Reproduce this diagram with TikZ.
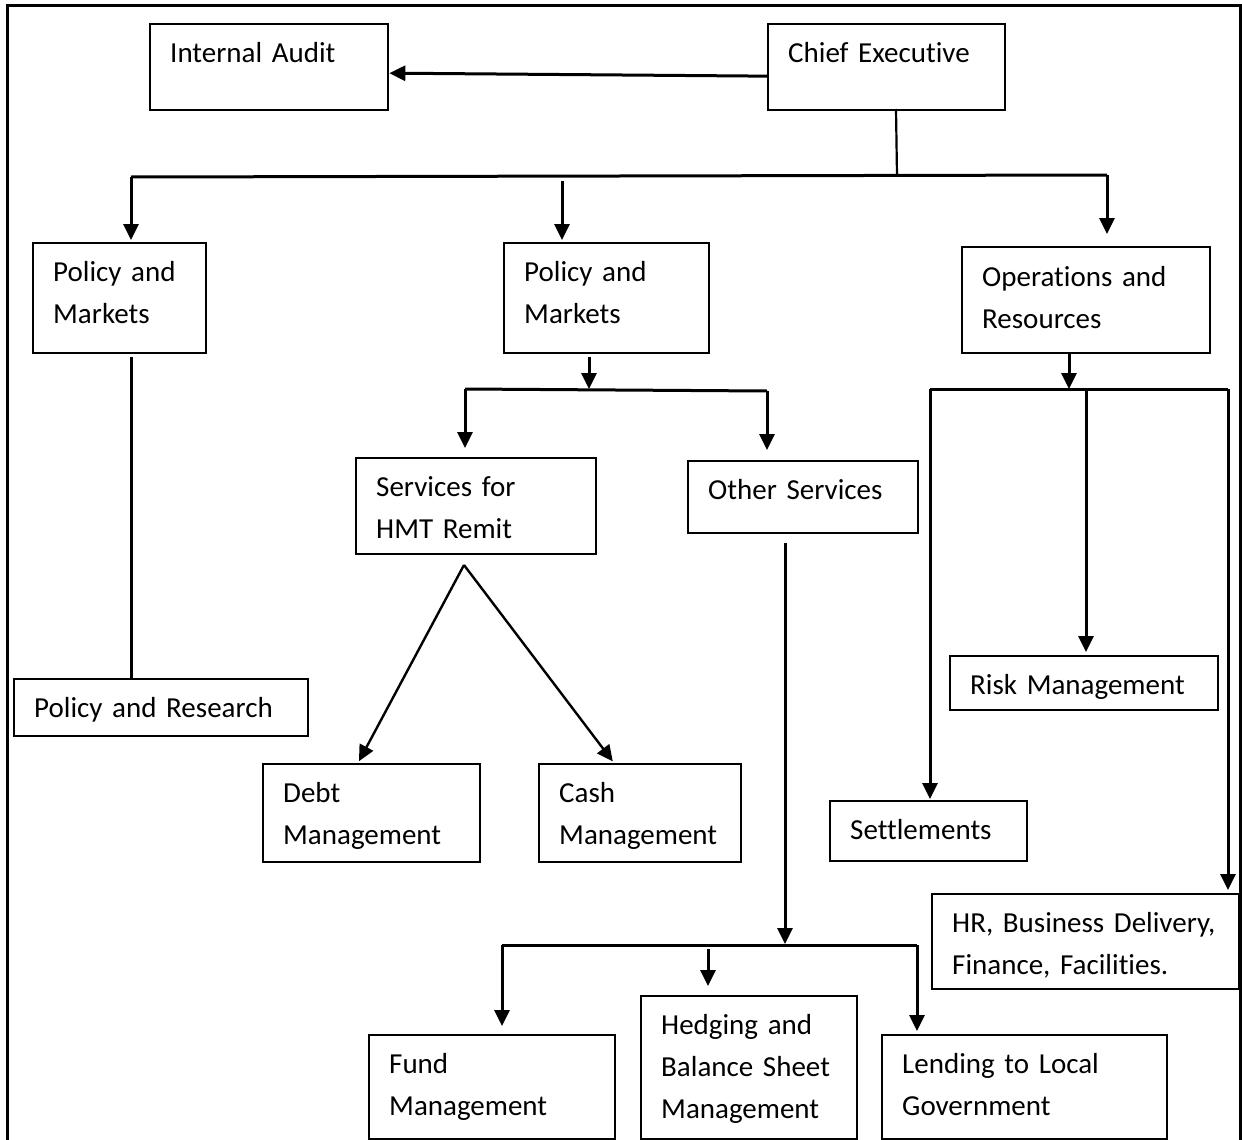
\documentclass[tikz,border=0pt]{standalone}
\usepackage{fontspec}
\setmainfont[Ligatures={NoCommon}]{Carlito}
\usetikzlibrary{arrows.meta}
\tikzset{
  box/.style={draw=black, line width=2.3pt, inner sep=0pt, anchor=north west},
  txt/.style={inner sep=0pt, anchor=north west, text width=400pt, align=left,
    font=\fontsize{29}{42}\selectfont, execute at begin node=\strut},
  conn/.style={line width=3pt, draw=black},
  arr/.style={conn, -{Triangle[width=15pt,length=16pt]}},
}
\newcommand{\orgbox}[7]{%
  \node[box, minimum width=#4pt, minimum height=#5pt] (#1) at (#2,#3) {};
  \node[txt] (#1-t) at ([xshift=21pt,yshift=-#7pt]#1.north west) {#6};
}
\begin{document}
\begin{tikzpicture}[x=1pt,y=-1pt]
\useasboundingbox (0,0) rectangle (1242,1140);
\fill[white] (0,0) rectangle (1242,1140);
\draw[line width=3pt] (7,6) rectangle (1240,1170);

\orgbox{ia}{149}{23}{238}{86}{Internal Audit}{9.6}
\orgbox{ce}{767}{23}{237}{86}{Chief Executive}{9.6}
\orgbox{pm1}{32}{242}{173}{110}{Policy and\\Markets}{9.6}
\orgbox{pm2}{503}{242}{205}{110}{Policy and\\Markets}{9.6}
\orgbox{or}{961}{246}{248}{106}{Operations and\\Resources}{11}
\orgbox{pr}{13}{678}{294}{57}{Policy and Research}{9.6}
\orgbox{hmt}{355}{457}{240}{96}{Services for\\HMT Remit}{9.6}
\orgbox{os}{687}{460}{230}{72}{Other Services}{9.6}
\orgbox{dm}{262}{763}{217}{98}{Debt\\Management}{9.6}
\orgbox{cm}{538}{763}{202}{98}{Cash\\Management}{9.6}
\orgbox{fm}{368}{1034}{246}{104}{Fund\\Management}{9.6}
\orgbox{hb}{640}{995}{216}{143}{Hedging and\\Balance Sheet\\Management}{9.6}
\orgbox{lg}{881}{1034}{285}{104}{Lending to Local\\Government}{9.6}
\orgbox{rm}{949}{655}{268}{54}{Risk Management}{9.6}
\orgbox{st}{829}{800}{197}{60}{Settlements}{9.6}
\orgbox{hr}{931}{893}{307}{95}{HR, Business Delivery,\\Finance, Facilities.}{9.6}

% Chief Executive -> Internal Audit
\draw[arr] ([yshift=-9pt]ce.west) -- ([yshift=-6pt]ia.east);

% Chief Executive down to top bus
\coordinate (ce1) at (896,109);
\coordinate (j0) at (897,176);
\coordinate (b1) at (131,177);
\coordinate (b2) at (1107,175);
\coordinate (m1) at (562,181);
\draw[conn, line width=2.2pt] (ce1) -- (j0);
\draw[conn] (b1) -- (b2);
\draw[arr, shorten >=2pt] (b1) -- (b1 |- pm1.north);
\draw[arr, shorten >=2pt] (m1) -- (m1 |- pm2.north);
\draw[arr, shorten >=12pt] (b2) -- (b2 |- or.north);

% Policy and Markets (left) -> Policy and Research
\coordinate (p1) at (131,357);
\draw[conn] (p1) -- (p1 |- pr.north);

% Policy and Markets (middle) -> services
\coordinate (p2) at (589,357);
\coordinate (b3) at (589,389);
\coordinate (b4) at (465,389);
\coordinate (b5) at (767,391);
\draw[arr] (p2) -- (b3);
\draw[conn] (b4) -- (b5);
\draw[arr, shorten >=9pt] (b4) -- (b4 |- hmt.north);
\draw[arr, shorten >=10pt] (b5) -- (b5 |- os.north);

% Services for HMT Remit -> Debt / Cash
\coordinate (apex) at (464,565);
\draw[arr, line width=2.4pt, shorten >=2pt] (apex) -- ([xshift=96pt]dm.north west);
\draw[arr, line width=2.4pt, shorten >=2pt] (apex) -- ([xshift=76pt]cm.north west);

% Other Services -> bottom bus
\coordinate (o1) at (785,543);
\coordinate (o2) at (785,944);
\coordinate (b6) at (502,945);
\coordinate (b7) at (917,945);
\coordinate (m2) at (708,949);
\draw[arr] (o1) -- (o2);
\draw[conn] (b6) -- (b7);
\draw[arr, shorten >=8pt] (b6) -- (b6 |- fm.north);
\draw[arr, shorten >=9pt] (m2) -- (m2 |- hb.north);
\draw[arr, shorten >=3pt] (b7) -- (b7 |- lg.north);

% Operations and Resources -> right bus
\coordinate (r1) at (1069,354);
\coordinate (r2) at (1069,389);
\coordinate (b8) at (930,389);
\coordinate (b9) at (1228,389);
\coordinate (b10) at (1086,389);
\draw[arr] (r1) -- (r2);
\draw[conn] (b8) -- (b9);
\draw[arr, shorten >=1pt] (b8) -- (b8 |- st.north);
\draw[arr, shorten >=3pt] (b10) -- (b10 |- rm.north);
\draw[arr, shorten >=3pt] (b9) -- (b9 |- hr.north);
\end{tikzpicture}
\end{document}
